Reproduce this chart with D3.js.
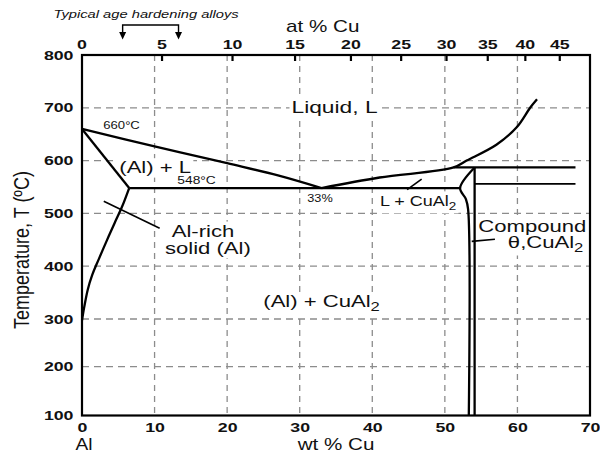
<!DOCTYPE html>
<html><head><meta charset="utf-8">
<script src="https://cdn.jsdelivr.net/npm/d3@7"></script>
<style>body{margin:0;background:#fff}svg{display:block}</style>
</head><body><svg id="c" width="600" height="455"></svg>
<script>
// ---- data (wt% Cu, temperature °C) ----
const wtTicks = [0,10,20,30,40,50,60,70];
const atTicks = [0,5,10,15,20,25,30,35,40,45];
const tempTicks = [100,200,300,400,500,600,700,800];
const liquidusAl = [[0,660],[10,627],[20,595],[27,572],[33,548]];
const liquidusCu = [[33,548],[41,568],[51.2,587],[53,600],[57.1,630],[59.9,663],[61.75,700],[62.7,716]];
const solidus = [[0,660],[6.5,548]];
const solvus = [[6.5,548],[5.5,512],[4.5,482],[3.4,448],[2.3,413],[1.4,383],[0.8,356],[0.3,322],[0,297]];
const eutectic = [[6.5,548],[52.1,548]];
const thetaLeft = [[54.1,587],[52.1,548],[52.9,527],[53.2,508],[53.3,100]];
const thetaRight = [[54.1,587],[54.1,100]];
const upperLine = [[51.2,587],[68.0,587]];
const lowerLine = [[54.1,556],[68.0,556]];
const leaders = [
  [[3.0,523],[10.7,472]],
  [[44.8,545],[46.8,565]],
  [[53.7,447],[56.9,451]]
];
const ageArrows = [5.6,13.3];

// ---- scales ----
const svg = d3.select("#c");
const L=82,R=590,T=55,B=415.5;
const x = d3.scaleLinear().domain([0,70]).range([L,R]);
const y = d3.scaleLinear().domain([100,200,300,800]).range([B,366.7,319,T]);
const atToWt = a => 100*a*63.546/(a*63.546+(100-a)*26.982);
const font = "'Liberation Sans', Arial, Helvetica, sans-serif";
const SX = 1.38;

// grid
const g = svg.append("g");
g.selectAll(".vg").data(wtTicks.filter(d=>d>0&&d<70)).enter().append("line")
 .attr("x1",d=>x(d)).attr("x2",d=>x(d)).attr("y1",T).attr("y2",B)
 .attr("stroke","#8c8c8c").attr("stroke-width",1.3).attr("stroke-dasharray","6,5");
g.selectAll(".hg").data(tempTicks.filter(d=>d>100&&d<800)).enter().append("line")
 .attr("x1",L).attr("x2",R).attr("y1",d=>y(d)).attr("y2",d=>y(d))
 .attr("stroke","#8c8c8c").attr("stroke-width",1.3).attr("stroke-dasharray","7,5");
const boxLayer = svg.append("g");

// frame
svg.append("rect").attr("x",L).attr("y",T).attr("width",R-L).attr("height",B-T)
 .attr("fill","none").attr("stroke","#000").attr("stroke-width",2.2);

// bottom axis
const bx = d3.axisBottom(x).tickValues(wtTicks).tickSize(0).tickPadding(8);
const bg = svg.append("g").attr("transform",`translate(0,${B})`).call(bx);
bg.select(".domain").remove();
bg.selectAll("text").attr("font-family",font).attr("font-size",12.5).attr("font-weight","bold").attr("fill","#111")
 .attr("transform",`scale(1.42,1)`);

// left axis
const ly = d3.axisLeft(y).tickValues(tempTicks).tickSize(0).tickPadding(6);
const lg = svg.append("g").attr("transform",`translate(${L},0)`).call(ly);
lg.select(".domain").remove();
lg.selectAll("text").attr("font-family",font).attr("font-size",12.5).attr("font-weight","bold").attr("fill","#111")
 .attr("transform",`scale(1.42,1)`);

// top axis (at %)
const tg = svg.append("g");
tg.selectAll("line").data(atTicks.filter(d=>d>0)).enter().append("line")
 .attr("x1",d=>x(atToWt(d))).attr("x2",d=>x(atToWt(d))).attr("y1",T).attr("y2",T+6)
 .attr("stroke","#000").attr("stroke-width",2.2);
tg.selectAll("text").data(atTicks).enter().append("text")
 .attr("transform",d=>`translate(${x(atToWt(d))},${T-6}) scale(1.42,1)`).attr("text-anchor","middle")
 .attr("font-family",font).attr("font-size",12.5).attr("font-weight","bold").attr("fill","#111")
 .text(d=>d);

// phase lines
const line = d3.line().x(d=>x(d[0])).y(d=>y(d[1]));
const curve = d3.line().x(d=>x(d[0])).y(d=>y(d[1])).curve(d3.curveCatmullRom.alpha(0.5));
const P = svg.append("g").attr("fill","none").attr("stroke","#000").attr("stroke-width",2.3).attr("stroke-linejoin","round");
P.append("path").attr("d",curve(liquidusAl));
P.append("path").attr("d",curve(liquidusCu));
P.append("path").attr("d",line(solidus));
P.append("path").attr("d",curve(solvus));
P.append("path").attr("d",line(eutectic));
P.append("path").attr("d",curve(thetaLeft));
P.append("path").attr("d",line(thetaRight));
P.append("path").attr("d",line(upperLine));
P.append("path").attr("d",line(lowerLine)).attr("stroke-width",1.8);
leaders.forEach(l=>P.append("path").attr("d",line(l)).attr("stroke-width",1.6));

// labels
function txt(xx,yy,s,size,opts={}){
  const sx = opts.sx || SX;
  const t=svg.append("text").attr("font-family",font)
   .attr("font-size",size).attr("fill","#111")
   .attr("transform", opts.rot ? `translate(${xx},${yy}) rotate(-90) scale(1,${sx})` : `translate(${xx},${yy}) scale(${sx},1)`);
  if(opts.anchor) t.attr("text-anchor",opts.anchor);
  if(opts.weight) t.attr("font-weight",opts.weight);
  if(opts.style) t.attr("font-style",opts.style);
  if(typeof s==="string") t.text(s); else s(t);
  if(opts.box){
    const bb=t.node().getBBox();
    let x0, w=bb.width*sx;
    if(opts.anchor==="end") x0=xx-w; else if(opts.anchor==="middle") x0=xx-w/2; else x0=xx;
    boxLayer.append("rect").attr("x",x0-2).attr("y",yy+bb.y-1).attr("width",w+4).attr("height",bb.height+2).attr("fill","#fff");
  }
  return t;
}
function sub(t,a,b){ t.append("tspan").text(a); t.append("tspan").attr("font-size","0.75em").attr("dy",4).text(b); }

txt(291.5,112.5,"Liquid, L",16.5,{box:true});
txt(119.3,173.3,"(Al) + L",16,{box:true});
txt(103.3,129,"660°C",10,{sx:1.31});
txt(177.3,183.5,"548°C",10);
txt(307.3,201.5,"33%",10,{sx:1.27});
txt(171.7,236.7,"Al-rich",16,{box:true});
txt(165,254,"solid (Al)",16,{box:true});
txt(380,205.7,t=>sub(t,"L + CuAl","2"),14.5,{box:true,sx:1.24});
txt(478.3,231.7,"Compound",16,{box:true});
txt(583.3,248,t=>sub(t,"θ,CuAl","2"),16,{anchor:"end",box:true});
txt(263.3,307.3,t=>sub(t,"(Al) + CuAl","2"),16,{box:true});
txt(75.5,450,"Al",16.5,{sx:1.16});
txt(336,450,"wt % Cu",16.5,{anchor:"middle",sx:1.25});
txt(322.7,31.7,"at % Cu",16,{anchor:"middle",sx:1.29});
txt(29,250,"Temperature, T (ºC)",18,{anchor:"middle",rot:true,sx:1.25});
txt(53.6,18.3,"Typical age hardening alloys",10.5,{style:"italic",sx:1.4});

// age hardening bracket
const ax = ageArrows.map(d=>x(d));
svg.append("path").attr("d",`M${ax[0]},33 L${ax[0]},25 L${ax[1]},25 L${ax[1]},33`)
 .attr("fill","none").attr("stroke","#000").attr("stroke-width",1.4);
ax.forEach(a=>svg.append("path").attr("d",`M${a-3.5},32 L${a+3.5},32 L${a},39.5 Z`).attr("fill","#000"));
</script></body></html>
